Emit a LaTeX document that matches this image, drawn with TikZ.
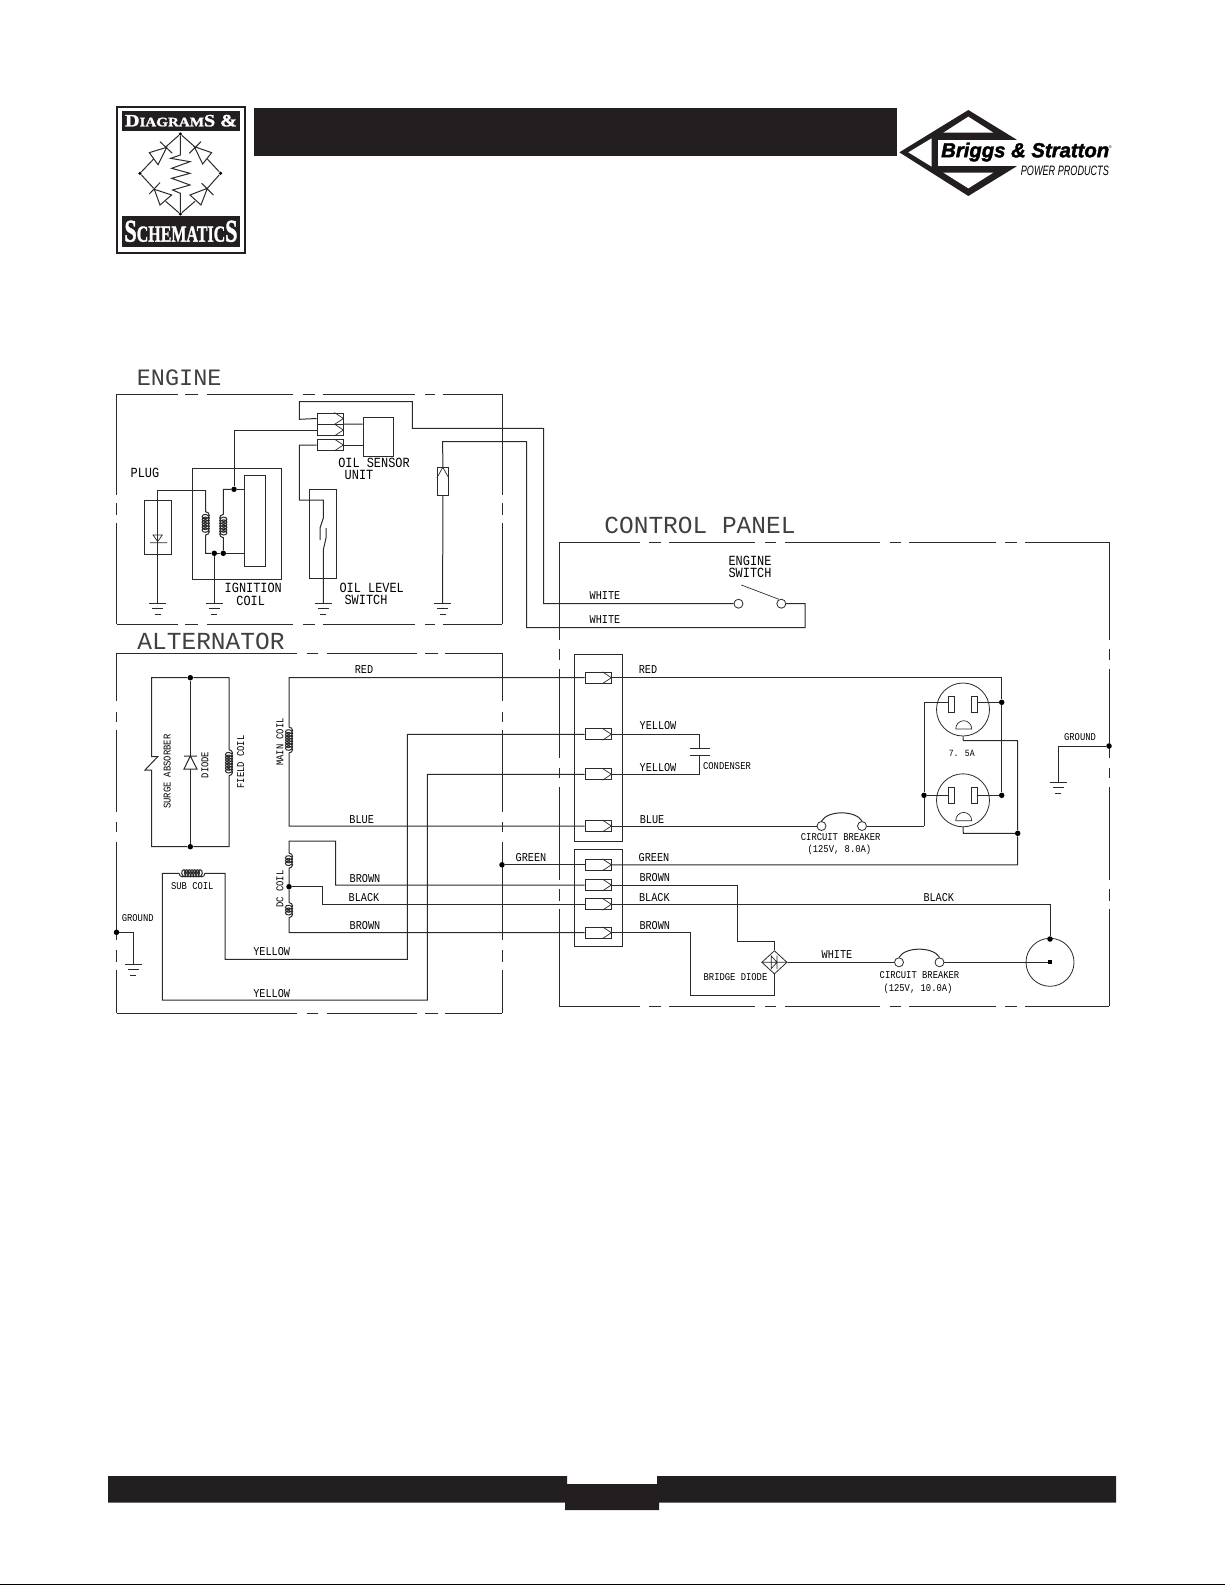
\documentclass[tikz,border=0pt]{standalone}
\usepackage{fontspec}
\usetikzlibrary{shapes.geometric,decorations.pathmorphing}
\newfontfamily\logosans{Liberation Sans}
\newfontfamily\brandfont[BoldItalicFeatures={FakeBold=2}]{Liberation Sans}
\newfontfamily\badgefont[BoldFeatures={FakeBold=1.5}]{Liberation Serif}
\newfontfamily\cadfont[FakeStretch=.85]{Liberation Mono}
\newfontfamily\cadtitle{Liberation Mono}
\definecolor{ink}{HTML}{231F20}
\definecolor{wirecol}{HTML}{2A2A2A}

\tikzset{
  wire/.style = {draw=wirecol, line width=1pt},
  frame/.style = {draw=wirecol, line width=1pt},
  thinw/.style = {draw=wirecol, line width=.7pt},
  dot/.style = {circle, fill=black, inner sep=0pt, minimum size=5.5pt},
  termbox/.style = {rectangle, draw=wirecol, line width=.8pt, inner sep=0pt, minimum width=26pt, minimum height=11pt},
  open/.style = {circle, draw=wirecol, line width=.8pt, inner sep=0pt, fill=white, minimum size=9pt},
  coilw/.style = {decoration={coil, aspect=.8, segment length=2.7pt, amplitude=3.6pt}},
  title/.style = {text=black!75, font=\cadtitle\fontsize{24.5}{24.5}\selectfont, inner sep=0pt},
  lblb/.style = {font=\cadfont\fontsize{14}{14}\selectfont, inner sep=0pt},
  lbl/.style = {font=\cadfont\fontsize{12}{12}\selectfont, inner sep=0pt},
  lbls/.style = {font=\cadfont\fontsize{10.4}{10.4}\selectfont, inner sep=0pt},
}

% ground symbol at a named point
\newcommand{\Gnd}[3]{
  \coordinate (#1) at (#2,#3);
  \draw[wire] (#2-8.5,#3) -- (#2+8.5,#3) (#2-5.5,#3+5.2) -- (#2+5.5,#3+5.2) (#2-3,#3+10.7) -- (#2+3,#3+10.7);
}
% connector with its chevron
\newcommand{\Term}[3]{
  \node[termbox] (#1) at (#2,#3) {};
  \draw[thinw] ([xshift=-9pt]#1.north east) -- (#1.east) -- ([xshift=-9pt]#1.south east);
}

\begin{document}
\begin{tikzpicture}[x=1pt, y=-1pt]
  \useasboundingbox (0,0) rectangle (1225,1585);

  % Header bar, footer bar, page edge
  \fill[ink] (254,108.3) rectangle (897,155.7);
  \fill[ink] (108,1476) -- (567,1476) -- (567,1484) -- (657,1484) -- (657,1476) -- (1116,1476)
    -- (1116,1502.7) -- (659,1502.7) -- (659,1510) -- (565,1510) -- (565,1502.7) -- (108,1502.7) -- cycle;
  \fill[black] (0,1583.7) rectangle (1225,1585);

  % Left badge
  \begin{scope}[shift={(100,90)}, x=.3333pt, y=-.3333pt]
    \draw[ink, line width=1.8pt] (50,52) rectangle (435,488);
    \fill[ink] (65,62) rectangle (420,122);
    \fill[ink] (65,378) rectangle (420,472);
    \node[white, inner sep=0pt] (badgetop) at (243,92) {\resizebox{112pt}{11.5pt}{\badgefont\bfseries\fontsize{14}{14}\selectfont D{\fontsize{10.5}{10.5}\selectfont IAGRAM}S \&}};
    \node[white, inner sep=0pt] (badgebot) at (243,424) {\resizebox{113pt}{21pt}{\badgefont\bfseries\fontsize{20}{20}\selectfont S{\fontsize{14.5}{14.5}\selectfont CHEMATIC}S}};
    \node[dot, minimum size=3.5pt] (btop) at (241,132) {};
    \node[dot, minimum size=3.5pt] (bleft) at (120,250) {};
    \node[dot, minimum size=3.5pt] (bright) at (362,250) {};
    \node[dot, minimum size=3.5pt] (bbot) at (241,372) {};
    \draw[wire] (bleft) -- (161,207) (197,171) -- (btop) -- (285,171) (322,207) -- (bright) -- (322,295) (285,334) -- (bbot) -- (197,334) (161,295) -- (bleft);
    \draw[wire] (148,188) -- (200,172) -- (174,224) -- cycle (180,155) -- (217,190);
    \draw[wire] (283,170) -- (335,188) -- (308,222) -- cycle (268,190) -- (303,155);
    \draw[wire] (163,298) -- (215,315) -- (180,345) -- cycle (148,312) -- (180,278);
    \draw[wire] (270,315) -- (322,295) -- (303,345) -- cycle (305,280) -- (340,315);
    \draw[wire] (btop) -- (241,195) -- (212,205) -- (270,215) -- (215,235) -- (270,250) -- (215,265) -- (270,285) -- (218,300) -- (241,310) -- (bbot);
  \end{scope}

  % Right logo
  \begin{scope}[shift={(880,90)}, x=.3333pt, y=-.3333pt]
    \fill[ink] (58,187) -- (265,60) -- (410,149) -- (410,229) -- (265,318) -- cycle;
    \fill[white] (85,187) -- (155,145) -- (155,230) -- cycle;
    \fill[white] (190,128) -- (265,80) -- (340,128) -- cycle;
    \fill[white] (190,248) -- (265,295) -- (340,248) -- cycle;
    \fill[white] (175,150) rectangle (415,228);
    \node[anchor=west, inner sep=0pt] (brandname) at (183,186) {\resizebox{168pt}{!}{\brandfont\bfseries\itshape Briggs \& Stratton}};
    \node[inner sep=0pt, font=\logosans\fontsize{4}{4}\selectfont] (brandmark) at (691,170) {®};
    \node[anchor=west, inner sep=0pt] (brandsub) at (422,243) {\resizebox{88pt}{9.5pt}{\logosans\itshape POWER PRODUCTS}};
  \end{scope}

  % Panel titles
  \node[title, font=\cadtitle\fontsize{23.5}{23.5}\selectfont] (engtitle) at (179.2,378) {ENGINE};
  \node[title] (alttitle) at (211,641) {ALTERNATOR};
  \node[title] (cptitle) at (700,525) {CONTROL PANEL};

  % Panel frames
  \foreach \a/\b in {116.5/178,185/198,207/293,303/315,323/415,425/435,443/502}
    \draw[frame] (\a,394) -- (\b,394) (\a,624) -- (\b,624);
  \foreach \a/\b in {394/495,503/515,523/624}
    \draw[frame] (116.5,\a) -- (116.5,\b) (502,\a) -- (502,\b);
  \foreach \a/\b in {116.5/297,307/318,327/417,425/438,445/502}
    \draw[frame] (\a,653) -- (\b,653) (\a,1013) -- (\b,1013);
  \foreach \a/\b in {653/701,712/722,730/812,822/832,842/940,950/962,970/1013}
    \draw[frame] (116.5,\a) -- (116.5,\b) (502,\a) -- (502,\b);
  \foreach \a/\b in {559/640,649/661,669/755,765/776,785/880,890/901,909/996,1005/1016.5,1025/1109}
    \draw[frame] (\a,542) -- (\b,542) (\a,1006) -- (\b,1006);
  \foreach \a/\b in {542/640,649/660,669/758,768/778,787/880,889/901,909/1006}
    \draw[frame] (559,\a) -- (559,\b) (1109,\a) -- (1109,\b);

  % Engine: oil sensor
  \Term{ta}{330}{418.5}
  \Term{tb}{330}{430}
  \Term{tc}{330}{445}
  \node[draw=wirecol, line width=.85pt, inner sep=0pt, minimum width=30pt, minimum height=39pt] (sensor) at (378,436.5) {};
  \coordinate (sa) at (sensor.west |- 0,424);
  \draw[wire] (tb.north east) -- (sa);
  \draw[wire] (tc.east) -- (sensor.west |- tc);
  \node[lblb] (lsens) at (374,463.3) {OIL SENSOR};
  \node[lblb] (lunit) at (359,475) {UNIT};

  % Engine: plug
  \node[draw=wirecol, line width=.85pt, inner sep=0pt, minimum width=26.7pt, minimum height=53.3pt] (plug) at (157.7,527.3) {};
  \node[lblb] (lplug) at (145,473.3) {PLUG};
  \Gnd{g1}{157.7}{603.3}
  \Gnd{g2}{214.3}{603.3}
  \Gnd{g3}{323.3}{603.3}
  \Gnd{g4}{442.7}{603.3}
  \draw[thinw] (153,535) -- (162.3,535) -- (157.7,541.5) -- cycle (150,542.7) -- (167.3,542.7);
  \coordinate (pa) at (157.7,490.7);
  \coordinate (pb) at (205.7,490.7);
  \draw[wire] (g1) -- (pa) -- (pb);

  % Engine: ignition coil
  \node[draw=wirecol, line width=.85pt, inner sep=0pt, minimum width=88.7pt, minimum height=110.7pt] (igbox) at (236.6,523.7) {};
  \node[draw=wirecol, line width=.85pt, inner sep=0pt, minimum width=20.7pt, minimum height=91pt] (igcore) at (254.6,521.2) {};
  \node[dot] (ig1) at (234,489.3) {};
  \node[dot] (ig2) at (214.3,553.3) {};
  \node[dot] (ig3) at (223.3,553.3) {};
  \draw[wire] (pb) -- (205.7,511.7) decorate[coilw]{-- (205.7,537.7)} |- (ig2);
  \draw[wire] (ig3) -- (223.3,537.7) decorate[coilw]{-- (223.3,511.7)} |- (ig1);
  \draw[wire] (ig1) -- (igcore.west |- ig1);
  \draw[wire] (ig2) -- (ig3) -- (igcore.west |- ig3);
  \draw[wire] (ig2) -- (g2);
  \node[lblb] (lign) at (253.3,588.3) {IGNITION};
  \node[lblb] (lcoil) at (250.7,600.7) {COIL};
  \coordinate (ba) at (234,430);
  \draw[wire] (tb.west) -- (ba) -- (ig1);

  % Engine: oil level switch
  \node[draw=wirecol, line width=.85pt, inner sep=0pt, minimum width=26.7pt, minimum height=89pt] (oilbox) at (322.7,533.8) {};
  \coordinate (ca) at (299.3,445);
  \coordinate (cb) at (299.3,500);
  \coordinate (cc) at (323.3,500);
  \draw[wire] (tc.west) -- (ca) -- (cb) -- (cc) -- (323.3,518) -- (320,528) -- (320,540);
  \draw[wire] (326,528) -- (326,538) -- (323.3,550) -- (g3);
  \node[lblb] (loil) at (371.7,588) {OIL LEVEL};
  \node[lblb] (lsw) at (366,600) {SWITCH};

  % Engine: white wires
  \coordinate (wa) at (299.3,419.3);
  \coordinate (wb) at (299.3,401.7);
  \coordinate (wc) at (412.3,401.7);
  \coordinate (wd) at (412.3,428.3);
  \coordinate (we) at (543.5,428.3);
  \coordinate (wf) at (543.5,603.7);
  \node[open] (swa) at (738.5,603.7) {};
  \node[open] (swb) at (781.3,603.7) {};
  \draw[wire] (ta.west) -- (wa) -- (wb) -- (wc) -- (wd) -- (we) -- (wf) -- (swa);
  \node[draw=wirecol, line width=.85pt, inner sep=0pt, minimum width=11pt, minimum height=27.3pt] (fuse) at (442.8,481.3) {};
  \draw[thinw] (fuse.west |- 0,478) -- (fuse.north) -- (fuse.east |- 0,478);
  \coordinate (xa) at (442.7,441.7);
  \coordinate (xb) at (526.7,441.7);
  \coordinate (xc) at (526.7,627.7);
  \coordinate (xd) at (805,627.7);
  \coordinate (xe) at (805,603.7);
  \draw[wire] (g4) -- (fuse.south) (fuse.north) -- (xa) -- (xb) -- (xc) -- (xd) -- (xe) -- (swb);
  \draw[thinw] (741.3,585) -- (779,599.3);
  \node[lblb] (lesw) at (750,560.7) {ENGINE};
  \node[lblb] (lesx) at (750,573.3) {SWITCH};
  \node[lbl] (lwh1) at (605,596) {WHITE};
  \node[lbl] (lwh2) at (605,619.3) {WHITE};

  % Alternator: surge absorber, diode, field coil
  \node[dot] (alta) at (190.3,677.7) {};
  \node[dot] (altb) at (190.3,846.7) {};
  \coordinate (fa) at (151.7,677.7);
  \coordinate (fb) at (151.7,846.7);
  \coordinate (fc) at (229,677.7);
  \coordinate (fd) at (229,846.7);
  \draw[wire] (alta) -- (fa) -- (151.7,756.7) -- (157.7,756.7) -- (145,770) -- (151.7,770) -- (fb) -- (altb);
  \draw[wire] (alta) -- (fc) -- (229,749.7) decorate[coilw]{-- (229,776)} -- (fd) -- (altb);
  \draw[wire] (alta) -- (190.3,756) (190.3,769) -- (altb);
  \draw[wire] (184,756) -- (197,756) (184,769) -- (197,769) -- (190.3,756) -- cycle;
  \node[lbls, rotate=90] (lsurge) at (167.3,771.7) {SURGE ABSORBER};
  \node[lbls, rotate=90] (ldiode) at (205,765) {DIODE};
  \node[lbls, rotate=90] (lfield) at (240.7,762) {FIELD COIL};

  % Connector blocks
  \node[draw=wirecol, line width=.85pt, inner sep=0pt, minimum width=48pt, minimum height=187.4pt] (blka) at (598,748) {};
  \node[draw=wirecol, line width=.85pt, inner sep=0pt, minimum width=48pt, minimum height=96.7pt] (blkb) at (598,897.7) {};
  \Term{tred}{598}{677.7}
  \Term{tyea}{598}{734.3}
  \Term{tyeb}{598}{774.3}
  \Term{tblu}{598}{826}
  \Term{tgre}{598}{864.8}
  \Term{tbra}{598}{885}
  \Term{tbla}{598}{904.3}
  \Term{tbrb}{598}{932.7}

  % Alternator: main coil
  \coordinate (ma) at (289,677.7);
  \coordinate (mb) at (289,826);
  \draw[wire] (tred.west) -- (ma) -- (289,727) decorate[coilw]{-- (289,753.7)} -- (mb) -- (tblu.west);
  \node[lbls, rotate=90] (lmain) at (280,742) {MAIN COIL};
  \node[lbl] (lred) at (364,670) {RED};
  \node[lbl] (lblu) at (361.7,820) {BLUE};

  % Alternator: dc coil
  \node[dot] (dcm) at (289,886.7) {};
  \coordinate (da) at (289,841);
  \coordinate (db) at (335.7,841);
  \coordinate (dc) at (335.7,885);
  \coordinate (dd) at (322.7,886.7);
  \coordinate (de) at (322.7,904.3);
  \coordinate (df) at (289,932.7);
  \draw[wire] (tbra.west) -- (dc) -- (db) -- (da) -- (289,853) decorate[coilw]{-- (289,868.3)} -- (dcm);
  \draw[wire] (dcm) -- (289,902.5) decorate[coilw]{-- (289,918.5)} -- (df) -- (tbrb.west);
  \draw[wire] (dcm) -- (dd) -- (de) -- (tbla.west);
  \node[lbls, rotate=90] (ldc) at (280,889) {DC COIL};
  \node[lbl] (lbra) at (365,878.3) {BROWN};
  \node[lbl] (lbla) at (364,897.3) {BLACK};
  \node[lbl] (lbrb) at (365,925.7) {BROWN};

  % Alternator: sub coil
  \coordinate (sa1) at (162.3,1000);
  \coordinate (sa2) at (162.3,873.3);
  \coordinate (sa3) at (225,873.3);
  \coordinate (sa4) at (225,959.3);
  \coordinate (sa5) at (407.3,959.3);
  \coordinate (sa6) at (407.3,734.3);
  \coordinate (sa7) at (427.3,1000);
  \coordinate (sa8) at (427.3,774.3);
  \draw[wire] (tyea.west) -- (sa6) -- (sa5) -- (sa4) -- (sa3) -- (205,873.3) decorate[coilw]{-- (178,873.3)} -- (sa2) -- (sa1) -- (sa7) -- (sa8) -- (tyeb.west);
  \node[lbls] (lsub) at (192.3,885.7) {SUB COIL};
  \node[lbl] (lyea) at (271.7,951.7) {YELLOW};
  \node[lbl] (lyeb) at (271.7,993.3) {YELLOW};

  % Alternator: ground and green
  \node[dot] (gnda) at (116.5,932.3) {};
  \Gnd{g5}{133.3}{964.3}
  \draw[wire] (gnda) -| (g5);
  \node[lbls] (lgnda) at (137.7,918.3) {GROUND};
  \node[dot] (gree) at (502,864.8) {};
  \draw[wire] (gree) -- (tgre.west);
  \node[lbl] (lgra) at (531,857.7) {GREEN};

  % Control panel: outlets
  \node[circle, draw=wirecol, line width=.8pt, inner sep=0pt, minimum size=53pt] (outa) at (963,709.5) {};
  \node[circle, draw=wirecol, line width=.8pt, inner sep=0pt, minimum size=53pt] (outb) at (963,800.3) {};
  \foreach \n/\y in {a/704.5, b/795.3} {
    \node[draw=wirecol, line width=.8pt, inner sep=0pt, minimum width=5.6pt, minimum height=15.6pt] (sl\n) at (951.5,\y) {};
    \node[draw=wirecol, line width=.8pt, inner sep=0pt, minimum width=5.6pt, minimum height=15.6pt] (sr\n) at (974.5,\y) {};
  }
  \draw[thinw] (955.7,729) -- (971.7,729) arc[start angle=0, end angle=-180, x radius=8, y radius=8.3];
  \draw[thinw] (955.7,820.7) -- (971.7,820.7) arc[start angle=0, end angle=-180, x radius=8, y radius=8.3];
  \node[lbls, font=\cadfont\fontsize{9.5}{9.5}\selectfont] (l75) at (961.7,753.3) {7.  5A};

  \node[dot] (ora) at (1001.7,702.3) {};
  \node[dot] (orb) at (1001.7,795.3) {};
  \node[dot] (olb) at (924,795.3) {};
  \node[dot] (gj) at (1017.7,833.3) {};
  \coordinate (ola) at (924,702.3);
  \coordinate (rr) at (1001.7,677.7);
  \coordinate (olc) at (924,826);
  \draw[wire] (tred.east) -- (rr) -- (ora) -- (orb);
  \draw[wire] (sra.east |- ora) -- (ora);
  \draw[wire] (srb.east |- orb) -- (orb);
  \draw[wire] (sla.west |- ola) -- (ola) -- (olb) -- (olc);
  \draw[wire] (slb.west |- olb) -- (olb);

  % ground bonds
  \coordinate (ga) at (963.3,740.7);
  \coordinate (gb) at (1017.7,740.7);
  \coordinate (gc) at (963.3,833.3);
  \coordinate (gd) at (1017.7,864.8);
  \draw[wire] (outa.south) -- (ga) -- (gb) -- (gj);
  \draw[wire] (outb.south) -- (gc) -- (gj) -- (gd) -- (tgre.east);
  \node[lbl] (lgrb) at (654,857.7) {GREEN};

  % Control panel: condenser
  \coordinate (ca1) at (699.6,734.3);
  \coordinate (ca2) at (699.6,748.3);
  \coordinate (ca3) at (699.6,755);
  \coordinate (ca4) at (699.6,774.3);
  \draw[wire] (tyea.east) -- (ca1) -- (ca2);
  \draw[wire] (tyeb.east) -- (ca4) -- (ca3);
  \draw[wire] (689.6,748.3) -- (710,748.3) (689.6,755) -- (710,755);
  \node[lbls] (lcond) at (727,765.7) {CONDENSER};
  \node[lbl] (lyc) at (658,726) {YELLOW};
  \node[lbl] (lyd) at (658,767.7) {YELLOW};
  \node[lbl] (lrb) at (648,670) {RED};

  % Control panel: first breaker
  \node[open] (cba) at (821.5,826) {};
  \node[open] (cbb) at (862,826) {};
  \draw[wire] (tblu.east) -- (cba);
  \draw[wire] (cbb) -- (olc);
  \draw[wire] (cba.north) .. controls +(6,-11) and +(-6,-11) .. (cbb.north);
  \node[lbl] (lbb) at (652,819.7) {BLUE};
  \node[lbls] (lcb1) at (840.7,836.7) {CIRCUIT BREAKER};
  \node[lbls] (lcb2) at (839.4,849.7) {(125V,  8.0A)};

  % Control panel: bridge diode
  \node[diamond, draw=wirecol, line width=.8pt, inner sep=0pt, minimum width=25.4pt, minimum height=23.4pt] (bridge) at (774.4,962.3) {};
  \coordinate (br1) at (737.3,885);
  \coordinate (br2) at (737.3,941);
  \coordinate (br3) at (774.4,941);
  \coordinate (br4) at (690,932.7);
  \coordinate (br5) at (690,995);
  \coordinate (br6) at (774.4,995);
  \draw[wire] (tbra.east) -- (br1) -- (br2) -- (br3) -- (bridge.north);
  \draw[wire] (tbrb.east) -- (br4) -- (br5) -- (br6) -- (bridge.south);
  \draw[thinw] (bridge.west) -- (bridge.east) (771.3,956) -- (777,962.3) -- (771.3,968.6) -- cycle (777,955.5) -- (777,969);
  \node[lbls] (lbd) at (735.5,976.7) {BRIDGE DIODE};
  \node[lbl] (lbrc) at (654.8,878) {BROWN};
  \node[lbl] (lblb) at (654.4,897.3) {BLACK};
  \node[lbl] (lbrd) at (654.8,925.7) {BROWN};

  % Control panel: dc outlet
  \node[circle, draw=wirecol, line width=.8pt, inner sep=0pt, minimum size=48pt] (dcout) at (1050,962.3) {};
  \node[dot] (dct) at (1050,939) {};
  \node[dot, rectangle, minimum size=4pt] (dcc) at (1050,962.3) {};
  \coordinate (bl1) at (1050,904.3);
  \draw[wire] (tbla.east) -- (bl1) -- (dct);
  \node[lbl] (lblc) at (938.8,897.3) {BLACK};
  \node[open] (cbc) at (899,962.3) {};
  \node[open] (cbd) at (939.5,962.3) {};
  \draw[wire] (bridge.east) -- (cbc);
  \draw[wire] (cbd) -- (dcc);
  \draw[wire] (cbc.north) .. controls +(6,-11) and +(-6,-11) .. (cbd.north);
  \node[lbl] (lwh3) at (837,954.7) {WHITE};
  \node[lbls] (lcb3) at (919.5,974.7) {CIRCUIT BREAKER};
  \node[lbls] (lcb4) at (918,988.7) {(125V,  10.0A)};

  % Control panel: ground
  \node[dot] (gndb) at (1109,746) {};
  \Gnd{g6}{1058}{782.7}
  \draw[wire] (gndb) -| (g6);
  \node[lbls] (lgndb) at (1080,737) {GROUND};
\end{tikzpicture}
\end{document}
